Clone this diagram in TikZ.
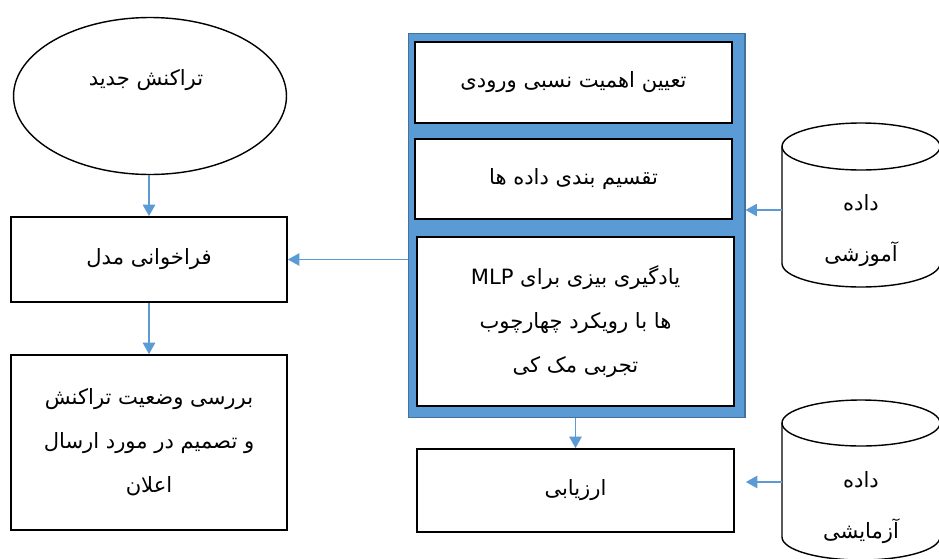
\documentclass[tikz,border=0pt]{standalone}
\usepackage{fontspec}
\newfontfamily\arabicfont[Script=Arabic]{DejaVu Sans}
\TeXXeTstate=1
\usetikzlibrary{shapes.geometric, arrows.meta, positioning}
\definecolor{flowblue}{RGB}{91,155,213}
\definecolor{frameblue}{RGB}{65,113,156}

\begin{document}
\begin{tikzpicture}[x=0.02cm, y=0.02cm,
	blk/.style={draw=black, line width=1pt, fill=white, align=center,
		font=\arabicfont\fontsize{12}{25}\selectfont},
	txt/.style={align=center, font=\arabicfont\fontsize{12}{29}\selectfont},
	flow/.style={draw=flowblue, line width=0.9pt, -{Triangle[width=7pt,length=6.5pt]}}]
	\useasboundingbox (0,0) rectangle (939,-558);
	% left column
	\node[draw, ellipse, line width=0.8pt, minimum width=5.46cm, minimum height=3.14cm] (newtx) at (150,-96) {};
	\node[txt] (newtxtext) at (146,-80) {\beginR تراکنش جدید\endR};
	\node[blk, minimum width=5.52cm, minimum height=1.7cm] (callmodel) at (149,-259.5) {\beginR فراخوانی مدل\endR};
	\node[blk, minimum width=5.52cm, minimum height=3.5cm] (check) at (149,-442.5)
		{\beginR بررسی وضعیت تراکنش\endR\\\beginR و تصمیم در مورد ارسال\endR\\\beginR اعلان\endR};
	% model frame
	\node[draw=frameblue, fill=flowblue, line width=0.6pt, minimum width=6.74cm, minimum height=7.7cm] (frame) at (576.5,-225.5) {};
	\node[blk, minimum width=6.34cm, minimum height=1.62cm] (weights) at (573.5,-82.5) {\beginR تعیین اهمیت نسبی ورودی\endR};
	\node[blk, minimum width=6.34cm, minimum height=1.6cm] (split) at (573.5,-179) {\beginR تقسیم بندی داده ها\endR};
	\node[blk, minimum width=6.34cm, minimum height=3.38cm] (learn) at (575.5,-321.5)
		{\beginR یادگیری بیزی برای \beginL MLP\endL\endR\\\beginR ها با رویکرد چهارچوب\endR\\\beginR تجربی مک کی\endR};
	\node[blk, minimum width=6.34cm, minimum height=1.66cm] (eval) at (575.5,-490.5) {\beginR ارزیابی\endR};
	% data stores
	\draw[line width=0.8pt] (782,-146.5) -- (782,-263.5) arc (180:360:79 and 23.5) -- (940,-146.5);
	\draw[line width=0.8pt] (861,-146.5) ellipse (79 and 23.5);
	\node[txt] (train) at (861,-231) {\beginR داده\endR\\\beginR آموزشی\endR};
	\coordinate (trainin) at (782,-210);
	\draw[line width=0.8pt] (782,-423) -- (782,-537) arc (180:360:79 and 23) -- (940,-423);
	\draw[line width=0.8pt] (861,-423) ellipse (79 and 23);
	\node[txt] (test) at (861,-508) {\beginR داده\endR\\\beginR آزمایشی\endR};
	\coordinate (testin) at (782,-482);
	% connectors
	\draw[flow] (callmodel.north |- newtx.south) -- (callmodel.north);
	\draw[flow] (callmodel.south) -- (check.north);
	\draw[flow] (frame.west |- callmodel.east) -- (callmodel.east);
	\draw[flow] (eval.north |- frame.south) -- (eval.north);
	\draw[flow] (trainin) -- (trainin -| frame.east);
	\draw[flow, shorten >=0.22cm] (testin) -- (testin -| eval.east);
\end{tikzpicture}
\end{document}
